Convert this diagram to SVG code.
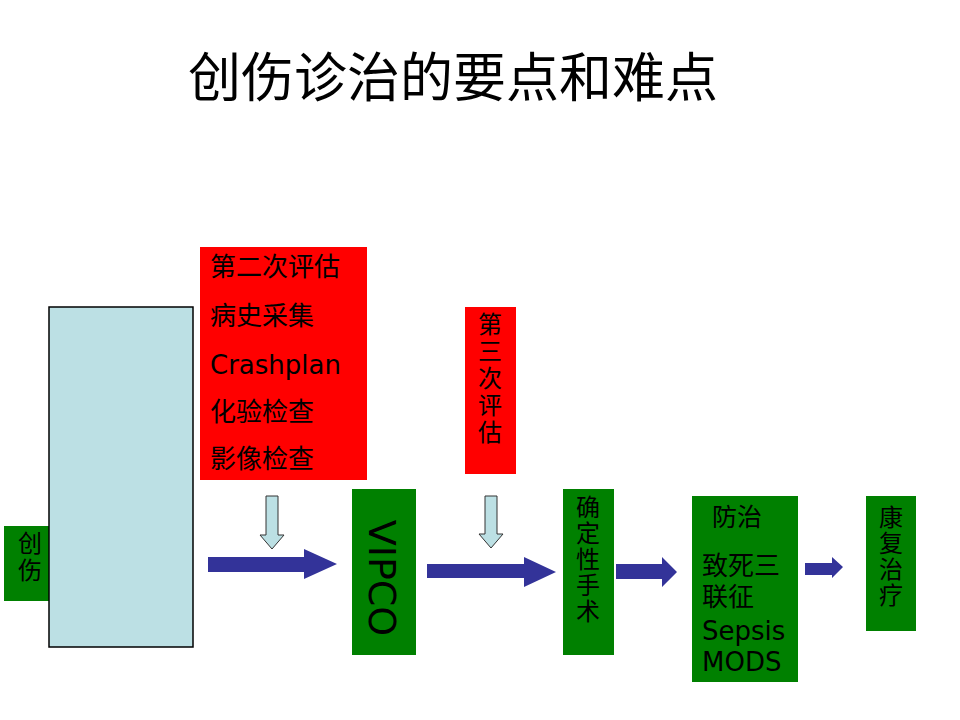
<svg xmlns="http://www.w3.org/2000/svg" width="960" height="720" viewBox="0 0 960 720">
<style>
.cjk{font-family:"Noto Sans CJK SC","Noto Sans",sans-serif;fill:#000}
.lat{font-family:"DejaVu Sans","Noto Sans",sans-serif;fill:#000}
.g{fill:#008000}
.r{fill:#ff0000}
.blue{fill:#333399}
.down{fill:#bce0e4;stroke:#333;stroke-width:1}
.v{writing-mode:vertical-rl;font-size:24px}
</style>
<rect width="960" height="720" fill="#fff"/>
<text class="cjk" x="188" y="97" font-size="53">创伤诊治的要点和难点</text>

<g id="trauma">
<rect class="g" x="4" y="526" width="45" height="75"/>
<text class="cjk v" x="30" y="531" letter-spacing="3">创伤</text>
</g>
<g id="bluebox">
<rect x="49" y="307" width="144" height="340" fill="#bce0e4" stroke="#000" stroke-width="1.5"/>
</g>
<g id="second-eval">
<rect class="r" x="200" y="247" width="167" height="233"/>
<text class="cjk" x="210" y="276" font-size="26">第二次评估</text>
<text class="cjk" x="210" y="325" font-size="26">病史采集</text>
<text class="lat" x="210" y="374" font-size="26">Crashplan</text>
<text class="cjk" x="210" y="421" font-size="26">化验检查</text>
<text class="cjk" x="210" y="468" font-size="26">影像检查</text>
</g>
<g id="vipco">
<rect class="g" x="352" y="489" width="64" height="166"/>
<text class="lat" transform="translate(369,578) rotate(90)" text-anchor="middle" font-size="38">VIPCO</text>
</g>
<g id="third-eval">
<rect class="r" x="465" y="307" width="51" height="167"/>
<text class="cjk v" x="490" y="312" letter-spacing="3">第三次评估</text>
</g>
<g id="surgery">
<rect class="g" x="563" y="489" width="51" height="166"/>
<text class="cjk v" x="588" y="495" letter-spacing="2">确定性手术</text>
</g>
<g id="prevent">
<rect class="g" x="692" y="496" width="106" height="186"/>
<text class="cjk" x="712" y="526" font-size="25">防治</text>
<text class="cjk" font-size="26"><tspan x="702" y="575">致死三</tspan><tspan x="702" y="606">联征</tspan></text>
<text class="lat" font-size="26"><tspan x="702" y="640">Sepsis</tspan><tspan x="702" y="671">MODS</tspan></text>
</g>
<g id="rehab">
<rect class="g" x="866" y="496" width="50" height="135"/>
<text class="cjk v" x="891" y="505" letter-spacing="2">康复治疗</text>
</g>

<g id="connectors">
<polygon class="down" points="266,496 278,496 278,535 284,535 272,549 260,535 266,535"/>
<polygon class="down" points="485,496 497,496 497,534 503,534 491,548 479,534 485,534"/>
<polygon class="blue" points="208,557 304,557 304,549 337,564 304,579 304,572 208,572"/>
<polygon class="blue" points="427,564 524,564 524,557 556,572 524,587 524,578 427,578"/>
<polygon class="blue" points="616,564 662,564 662,557 677,572 662,587 662,579 616,579"/>
<polygon class="blue" points="805,563 832,563 832,557 843,567 832,578 832,575 805,575"/>
</g>
</svg>
